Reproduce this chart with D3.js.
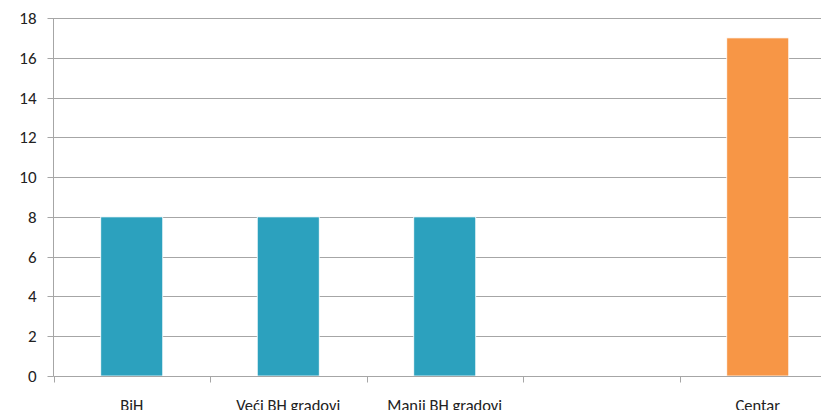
<!DOCTYPE html>
<html><head><meta charset="utf-8">
<script src="https://cdn.jsdelivr.net/npm/d3@7"></script>
<style>body{margin:0;background:#fff}svg{display:block}</style>
</head><body>
<svg id="c" width="821" height="410"></svg>
<script>
const categories = ["BiH", "Veći BH gradovi", "Manji BH gradovi", "", "Centar"];
const values = [8, 8, 8, null, 17];
const barColors = ["#2CA1BE", "#2CA1BE", "#2CA1BE", "#2CA1BE", "#F79646"];
const yTicks = [0, 2, 4, 6, 8, 10, 12, 14, 16, 18];

const svg = d3.select("#c");
const x0 = 53.5, x1 = 836, yTop = 18, yBot = 376;
const xb = d3.scaleBand().domain(d3.range(categories.length)).range([x0, x1]);
const y = d3.scaleLinear().domain([0, 18]).range([yBot, yTop]);
const font = "Carlito, Lato, 'Open Sans', sans-serif";

// gridlines
svg.append("g").selectAll("line").data(yTicks).join("line")
  .attr("x1", x0).attr("x2", x1)
  .attr("y1", d => Math.round(y(d)) + 0.5).attr("y2", d => Math.round(y(d)) + 0.5)
  .attr("stroke", "#A6A6A6").attr("stroke-width", 1);

// y axis
const ya = svg.append("g").attr("transform", `translate(${x0},0)`)
  .call(d3.axisLeft(y).tickValues(yTicks).tickSize(6).tickPadding(11));
ya.select(".domain").attr("stroke", "#A6A6A6").attr("d", `M-0,${yTop}V${yBot}`);
ya.selectAll(".tick line").attr("stroke", "#A6A6A6");
ya.selectAll(".tick").attr("transform", d => `translate(0,${Math.round(y(d)) + 0.5})`);
ya.selectAll("text").attr("font-family", font).attr("font-size", 17).attr("fill", "#222");

// bars
svg.append("g").selectAll("rect").data(values.map((v, i) => ({v, i})).filter(d => d.v != null)).join("rect")
  .attr("x", d => xb(d.i) + xb.bandwidth() / 2 - 31)
  .attr("width", 62)
  .attr("y", d => y(d.v))
  .attr("height", d => y(0) - y(d.v))
  .attr("fill", d => barColors[d.i])
  .attr("stroke", "#fff").attr("stroke-width", 0.8);

// x axis
const xa = svg.append("g").attr("transform", `translate(0,${Math.round(yBot) + 0.5})`);
xa.append("line").attr("x1", x0).attr("x2", x1).attr("stroke", "#A6A6A6");
xa.selectAll("line.t").data(d3.range(categories.length + 1)).join("line").attr("class", "t")
  .attr("x1", i => Math.round(x0 + i * xb.step()) + 0.5).attr("x2", i => Math.round(x0 + i * xb.step()) + 0.5)
  .attr("y1", 0).attr("y2", 6).attr("stroke", "#A6A6A6");
xa.selectAll("text").data(categories).join("text")
  .attr("x", (d, i) => xb(i) + xb.bandwidth() / 2)
  .attr("y", 34.5)
  .attr("text-anchor", "middle")
  .attr("font-family", font).attr("font-size", 16.5).attr("fill", "#222")
  .text(d => d);
</script>
</body></html>
